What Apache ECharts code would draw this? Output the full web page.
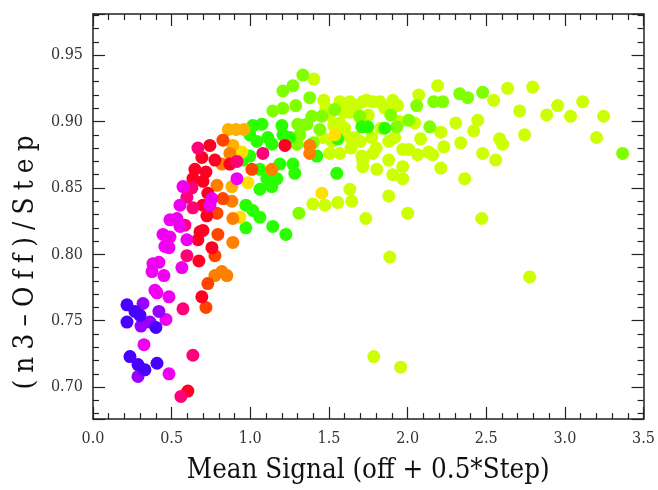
<!DOCTYPE html>
<html><head><meta charset="utf-8">
<script src="https://cdn.jsdelivr.net/npm/echarts@6/dist/echarts.min.js"></script>
<style>html,body{margin:0;padding:0;background:#fff}#c{width:658px;height:490px}</style>
</head><body><div id="c"></div>
<script>
const xTitle = 'Mean Signal (off + 0.5*Step)';
const yTitle = '(n3\u2013Off)/Step';
const xRange = [0, 3.5];
const yRange = [0.676, 0.981];

const yellowgreen = [[1.404,0.932],[1.467,0.916],[1.569,0.915],[1.633,0.915],[1.715,0.915],[1.779,0.915],[1.505,0.905],[1.569,0.899],[1.633,0.907],[1.677,0.912],[1.740,0.916],[1.823,0.915],[1.906,0.916],[1.937,0.912],[1.505,0.876],[1.569,0.876],[1.633,0.888],[1.709,0.874],[1.779,0.876],[1.804,0.864],[1.715,0.866],[1.633,0.849],[1.645,0.840],[1.397,0.838],[1.474,0.837],[1.556,0.839],[1.734,0.827],[1.880,0.844],[2.001,0.831],[2.471,0.827],[1.887,0.798],[2.776,0.783],[1.785,0.723],[1.956,0.715],[2.191,0.927],[2.547,0.916],[2.636,0.925],[2.795,0.926],[2.712,0.908],[2.884,0.905],[2.954,0.912],[3.036,0.904],[3.113,0.915],[3.246,0.904],[3.201,0.888],[2.744,0.890],[2.585,0.887],[2.604,0.883],[2.477,0.876],[2.560,0.871],[2.446,0.901],[2.420,0.893],[2.338,0.884],[2.306,0.899],[2.363,0.857],[2.211,0.865],[2.230,0.881],[2.211,0.892],[2.160,0.875],[2.134,0.877],[2.083,0.887],[2.064,0.875],[1.969,0.879],[2.007,0.879],[1.969,0.866],[1.906,0.860],[1.969,0.857],[1.880,0.871],[1.715,0.871],[2.071,0.920],[1.601,0.907],[1.696,0.903],[1.855,0.910],[1.664,0.888],[1.772,0.888],[1.918,0.888],[2.045,0.899],[1.530,0.897],[1.460,0.888],[1.600,0.895],[1.700,0.885],[1.750,0.905],[1.830,0.895],[1.880,0.885],[1.950,0.900],[1.640,0.880],[1.520,0.885],[1.480,0.910],[1.800,0.880]];
const lime = [[1.143,0.908],[1.207,0.910],[1.289,0.912],[1.315,0.890],[1.296,0.883],[1.378,0.918],[1.207,0.923],[1.271,0.927],[1.334,0.935],[1.302,0.898],[1.359,0.898],[1.442,0.894],[1.391,0.904],[1.455,0.904],[1.309,0.831],[2.166,0.915],[2.223,0.915],[2.058,0.912],[2.141,0.896],[2.007,0.901],[1.893,0.905],[1.931,0.896],[2.331,0.921],[2.382,0.918],[2.477,0.922],[3.367,0.876],[1.696,0.904],[1.537,0.909],[1.400,0.884]];
const green = [[1.016,0.897],[1.074,0.898],[0.997,0.890],[1.042,0.885],[1.112,0.888],[1.137,0.883],[1.201,0.897],[0.997,0.874],[1.061,0.864],[1.188,0.868],[1.271,0.868],[1.283,0.861],[1.105,0.857],[1.169,0.857],[1.061,0.849],[1.137,0.851],[1.423,0.874],[1.556,0.887],[1.709,0.896],[1.747,0.896],[1.550,0.861],[0.972,0.837],[1.016,0.833],[1.061,0.828],[0.972,0.820],[1.143,0.821],[1.226,0.815],[1.207,0.890],[1.251,0.888],[0.953,0.871],[1.855,0.895],[1.124,0.853]];
const yellow = [[0.946,0.877],[0.985,0.854],[1.537,0.890],[1.455,0.846],[0.934,0.828]];
const amber = [[0.860,0.894],[0.910,0.894],[0.960,0.894],[0.883,0.851],[0.889,0.882]];
const orange = [[0.819,0.868],[0.788,0.852],[0.883,0.840],[0.775,0.784],[0.819,0.787],[0.851,0.784],[0.889,0.809],[0.889,0.827],[1.137,0.864],[1.378,0.882],[1.378,0.876],[0.870,0.876]];
const orangered = [[0.826,0.886],[1.010,0.864],[0.826,0.842],[0.788,0.831],[0.794,0.815],[0.775,0.799],[0.718,0.760],[0.730,0.778]];
const red = [[0.743,0.882],[0.692,0.873],[0.775,0.871],[0.870,0.868],[0.648,0.864],[0.718,0.862],[0.635,0.857],[0.699,0.855],[0.730,0.846],[0.699,0.837],[0.724,0.829],[0.680,0.817],[0.667,0.811],[0.699,0.818],[0.756,0.805],[0.673,0.795],[0.692,0.768],[0.603,0.697],[1.220,0.882]];
const pink = [[0.667,0.880],[0.915,0.870],[0.629,0.850],[0.597,0.843],[0.635,0.835],[0.584,0.822],[0.572,0.759],[0.559,0.693],[0.597,0.799],[1.080,0.876],[0.635,0.724]];
const magenta = [[0.553,0.837],[0.489,0.826],[0.534,0.827],[0.553,0.821],[0.445,0.815],[0.489,0.813],[0.597,0.811],[0.457,0.806],[0.483,0.805],[0.381,0.793],[0.419,0.794],[0.451,0.784],[0.375,0.787],[0.394,0.773],[0.407,0.771],[0.483,0.768],[0.464,0.751],[0.324,0.732],[0.483,0.710],[0.572,0.851],[0.756,0.842],[0.915,0.857],[0.743,0.837],[0.565,0.790]];
const violet = [[0.318,0.763],[0.419,0.757],[0.305,0.746],[0.286,0.708],[0.362,0.749]];
const blue = [[0.216,0.762],[0.216,0.749],[0.267,0.757],[0.299,0.754],[0.400,0.745],[0.235,0.723],[0.286,0.717],[0.330,0.713],[0.407,0.718]];

const groups = [
  [yellowgreen, '#ccff00'], [lime, '#80ff00'], [green, '#2aff00'],
  [yellow, '#ffe000'], [amber, '#ffb000'], [orange, '#ff7f00'],
  [orangered, '#ff4400'], [red, '#ff0022'], [pink, '#ff0078'],
  [magenta, '#f000f0'], [violet, '#9a00ff'], [blue, '#4800ff']
];

const FONT = '"DejaVu Serif Condensed", "DejaVu Serif", serif';
const axisLineStyle = { color: '#222', width: 1.5 };
// spaced-out y title: each glyph drawn as its own rich-text run with side padding
const yTitleRich = Array.from(yTitle).map(ch => '{c|' + ch + '}').join('');

function xAx(pos, show) {
  return {
    type: 'value', position: pos, min: xRange[0], max: xRange[1], interval: 0.5,
    axisLine: { show: true, onZero: false, lineStyle: axisLineStyle },
    axisTick: { show: true, inside: true, length: 12, lineStyle: { color: '#222', width: 1.2 } },
    minorTick: { show: true, splitNumber: 5, length: 6, lineStyle: { color: '#222', width: 1.2 } },
    splitLine: { show: false }, minorSplitLine: { show: false },
    axisLabel: { show: show, margin: 12, color: '#333', fontSize: 16, fontFamily: FONT,
      formatter: v => v.toFixed(1) },
    name: show ? xTitle : '', nameLocation: 'middle', nameGap: 38,
    nameTextStyle: { fontSize: 27.5, fontFamily: FONT, color: '#111' }
  };
}
function yAx(pos, show) {
  return {
    type: 'value', position: pos, min: yRange[0], max: yRange[1], splitNumber: 6,
    axisLine: { show: true, onZero: false, lineStyle: axisLineStyle },
    axisTick: { show: true, inside: true, length: 12, lineStyle: { color: '#222', width: 1.2 } },
    minorTick: { show: true, splitNumber: 5, length: 6, lineStyle: { color: '#222', width: 1.2 } },
    splitLine: { show: false }, minorSplitLine: { show: false },
    axisLabel: { show: show, margin: 10, color: '#333', fontSize: 16, fontFamily: FONT,
      showMinLabel: false, showMaxLabel: false, formatter: v => v.toFixed(2) },
    name: show ? yTitleRich : '', nameLocation: 'middle', nameGap: 52,
    nameTextStyle: { fontSize: 27.5, fontFamily: FONT, color: '#111', padding: [0, 92, 0, 0],
      rich: { c: { fontSize: 27.5, fontFamily: FONT, color: '#111', padding: [0, 3.6, 0, 3.6] } } }
  };
}

const chart = echarts.init(document.getElementById('c'), null, { renderer: 'canvas' });
chart.setOption({
  animation: false,
  backgroundColor: '#fff',
  grid: { left: 93, right: 14, top: 14, bottom: 61, containLabel: false },
  xAxis: [xAx('bottom', true), xAx('top', false)],
  yAxis: [yAx('left', true), yAx('right', false)],
  series: groups.map(([d, c]) => ({
    type: 'scatter', xAxisIndex: 0, yAxisIndex: 0, data: d,
    symbol: 'circle', symbolSize: 13,
    itemStyle: { color: c, opacity: 1 }
  }))
});
</script></body></html>
